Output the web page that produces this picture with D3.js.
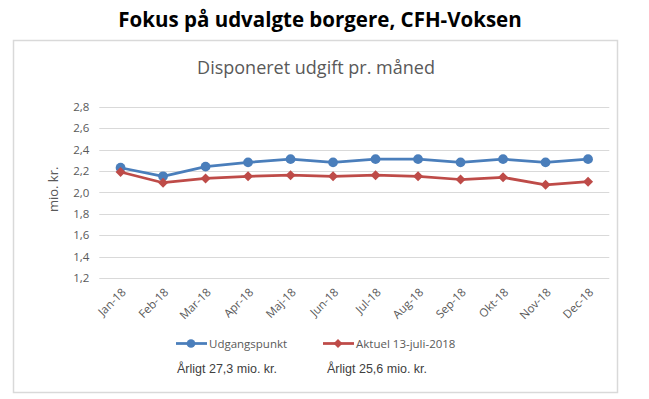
<!DOCTYPE html>
<html>
<head>
<meta charset="utf-8">
<script src="https://cdn.jsdelivr.net/npm/d3@7"></script>
<style>
  body { margin: 0; background: #fff; }
  svg { display: block; }
</style>
</head>
<body>
<div id="app"></div>
<script>
const months = ['Jan-18', 'Feb-18', 'Mar-18', 'Apr-18', 'Maj-18', 'Jun-18', 'Jul-18', 'Aug-18', 'Sep-18', 'Okt-18', 'Nov-18', 'Dec-18']
const udgangspunkt = [2.23, 2.15, 2.24, 2.28, 2.31, 2.28, 2.31, 2.31, 2.28, 2.31, 2.28, 2.31]
const aktuel = [2.19, 2.09, 2.13, 2.15, 2.16, 2.15, 2.16, 2.15, 2.12, 2.14, 2.07, 2.10]
const yTicks = [1.2, 1.4, 1.6, 1.8, 2.0, 2.2, 2.4, 2.6, 2.8]
const seriesNames = ['Udgangspunkt', 'Aktuel 13-juli-2018']
const annualNotes = ['Årligt 27,3 mio. kr.', 'Årligt 25,6 mio. kr.']

const W = 649, H = 399
const blue = '#4a7ebb', red = '#be4b48'
const font = '"Open Sans", "Noto Sans", sans-serif'

const svg = d3.select('#app').append('svg').attr('width', W).attr('height', H)

// main title above the chart frame
svg.append('text')
  .attr('x', 320).attr('y', 27)
  .attr('text-anchor', 'middle')
  .attr('font-family', font).attr('font-weight', 700).attr('font-size', 20.5)
  .attr('fill', '#000')
  .text('Fokus på udvalgte borgere, CFH-Voksen')

// chart frame
svg.append('rect')
  .attr('x', 13.5).attr('y', 40.5).attr('width', 604).attr('height', 352)
  .attr('fill', '#fff').attr('stroke', '#d9d9d9').attr('stroke-width', 1.5)

svg.append('text')
  .attr('x', 316).attr('y', 74)
  .attr('text-anchor', 'middle')
  .attr('font-family', font).attr('font-size', 18)
  .attr('fill', '#595959')
  .text('Disponeret udgift pr. måned')

const x = d3.scaleBand().domain(months).range([99.3, 609.3])
const y = d3.scaleLinear().domain([1.2, 2.8]).range([278, 106.7])

// gridlines
svg.append('g')
  .selectAll('line')
  .data(yTicks)
  .join('line')
  .attr('x1', x.range()[0]).attr('x2', x.range()[1])
  .attr('y1', d => Math.round(y(d)) + 0.5).attr('y2', d => Math.round(y(d)) + 0.5)
  .attr('stroke', '#d9d9d9').attr('stroke-width', 1)

// y axis labels
const yAxis = svg.append('g')
  .attr('transform', `translate(${x.range()[0]},0)`)
  .call(d3.axisLeft(y).tickValues(yTicks).tickSize(0).tickPadding(10)
    .tickFormat(d => d3.format('.1f')(d).replace('.', ',')))
yAxis.select('.domain').remove()
yAxis.selectAll('text')
  .attr('font-family', font).attr('font-size', 11.5).attr('fill', '#595959')

svg.append('text')
  .attr('transform', `translate(58,${y(2.0) - 3}) rotate(-90)`)
  .attr('text-anchor', 'middle')
  .attr('font-family', font).attr('font-size', 13).attr('fill', '#595959')
  .text('mio. kr.')

// x axis labels, rotated
const xAxis = svg.append('g')
  .attr('transform', `translate(0,${y(1.2)})`)
  .call(d3.axisBottom(x).tickSize(0).tickPadding(0))
xAxis.select('.domain').remove()
xAxis.selectAll('text')
  .attr('font-family', font).attr('font-size', 11.5).attr('fill', '#595959')
  .attr('text-anchor', 'end')
  .attr('dy', 0)
  .attr('transform', 'translate(6,15) rotate(-45)')

// series
const series = [
  { name: seriesNames[0], values: udgangspunkt, color: blue, marker: d3.symbolCircle, size: 75, rot: 0 },
  { name: seriesNames[1], values: aktuel, color: red, marker: d3.symbolSquare, size: 50, rot: 45 }
]

const line = d3.line()
  .x((d, i) => x(months[i]) + x.bandwidth() / 2)
  .y(d => y(d))

series.forEach(s => {
  svg.append('path')
    .datum(s.values)
    .attr('d', line)
    .attr('fill', 'none')
    .attr('stroke', s.color)
    .attr('stroke-width', 2.75)
    .attr('stroke-linejoin', 'round')

  svg.append('g')
    .selectAll('path')
    .data(s.values)
    .join('path')
    .attr('d', d3.symbol().type(s.marker).size(s.size))
    .attr('transform', (d, i) => `translate(${x(months[i]) + x.bandwidth() / 2},${y(d)}) rotate(${s.rot})`)
    .attr('fill', s.color)
})

// legend
const legendX = [176, 323]
series.forEach((s, i) => {
  const g = svg.append('g').attr('transform', `translate(${legendX[i]},343.5)`)
  g.append('line').attr('x1', 0).attr('x2', 31).attr('stroke', s.color).attr('stroke-width', 2.75)
  g.append('path').attr('d', d3.symbol().type(s.marker).size(s.size * 0.8)).attr('transform', `translate(15,0) rotate(${s.rot})`).attr('fill', s.color)
  g.append('text')
    .attr('x', 33).attr('y', 4.5)
    .attr('font-family', font).attr('font-size', 11.5).attr('fill', '#595959')
    .text(s.name)
})

// annual totals
const noteX = [177, 327]
svg.append('g')
  .selectAll('text')
  .data(annualNotes)
  .join('text')
  .attr('x', (d, i) => noteX[i]).attr('y', 373)
  .attr('font-family', '"Liberation Sans", Arial, sans-serif').attr('font-size', 12.5)
  .attr('fill', '#404040')
  .text(d => d)
</script>
</body>
</html>
